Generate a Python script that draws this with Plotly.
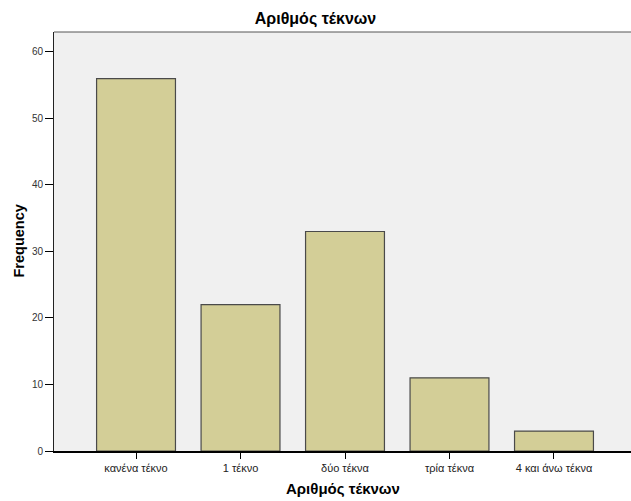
import plotly.graph_objects as go

categories = ["κανένα τέκνο", "1 τέκνο", "δύο τέκνα", "τρία τέκνα", "4 και άνω τέκνα"]
frequency = [56, 22, 33, 11, 3]
y_ticks = [0, 10, 20, 30, 40, 50, 60]

W, H = 631, 501
ML, MR, MT, MB = 54, 0, 32, 50
plot_w = W - ML - MR
plot_h = H - MT - MB

fig = go.Figure()
fig.add_trace(go.Bar(
    x=list(range(len(categories))),
    y=frequency,
    width=0.755,
    marker=dict(color="#D3CE97", line=dict(color="#4a4a4a", width=1.2)),
    hoverinfo="skip",
))

font_family = "Liberation Sans, Arial, sans-serif"
fig.update_layout(
    width=W, height=H,
    margin=dict(l=ML, r=MR, t=MT, b=MB),
    paper_bgcolor="white",
    plot_bgcolor="#F0F0F0",
    showlegend=False,
    font=dict(family=font_family, size=10, color="black"),
    title=dict(text="<b>Αριθμός τέκνων</b>", x=0.5, xanchor="center",
               xref="container", yref="container",
               y=1 - 18 / H, yanchor="middle", font=dict(size=16, family=font_family)),
)
fig.update_xaxes(
    range=[-0.785, 4.737],
    tickmode="array",
    tickvals=list(range(len(categories))),
    ticktext=categories,
    ticks="outside", ticklen=6, tickcolor="black",
    showline=True, linecolor="black", linewidth=1.5, mirror=False,
    showgrid=False, zeroline=False,
    tickfont=dict(size=11, color="#222"),
)
fig.update_yaxes(
    range=[0, 63],
    tickmode="array",
    tickvals=y_ticks,
    ticks="outside", ticklen=8, tickcolor="black",
    showline=True, linecolor="#222", linewidth=1, mirror=False,
    showgrid=False, zeroline=False,
    tickfont=dict(size=10, color="#333"),
)
fig.add_shape(type="line", xref="paper", yref="paper", x0=0, x1=1, y0=1, y1=1,
              line=dict(color="#555", width=1))
fig.add_annotation(text="<b>Αριθμός τέκνων</b>", xref="paper", yref="paper",
                   x=0.5, y=-37 / plot_h, xanchor="center", yanchor="middle",
                   showarrow=False, font=dict(size=15, family=font_family))
fig.add_annotation(text="<b>Frequency</b>", xref="paper", yref="paper",
                   x=-(ML - 18) / plot_w, y=0.5, xanchor="center", yanchor="middle",
                   textangle=-90, showarrow=False, font=dict(size=14.5, family=font_family))

fig.write_html("out.html",
               config={"displayModeBar": False},
               post_script="document.body.style.margin='0';document.body.style.overflow='hidden';")
